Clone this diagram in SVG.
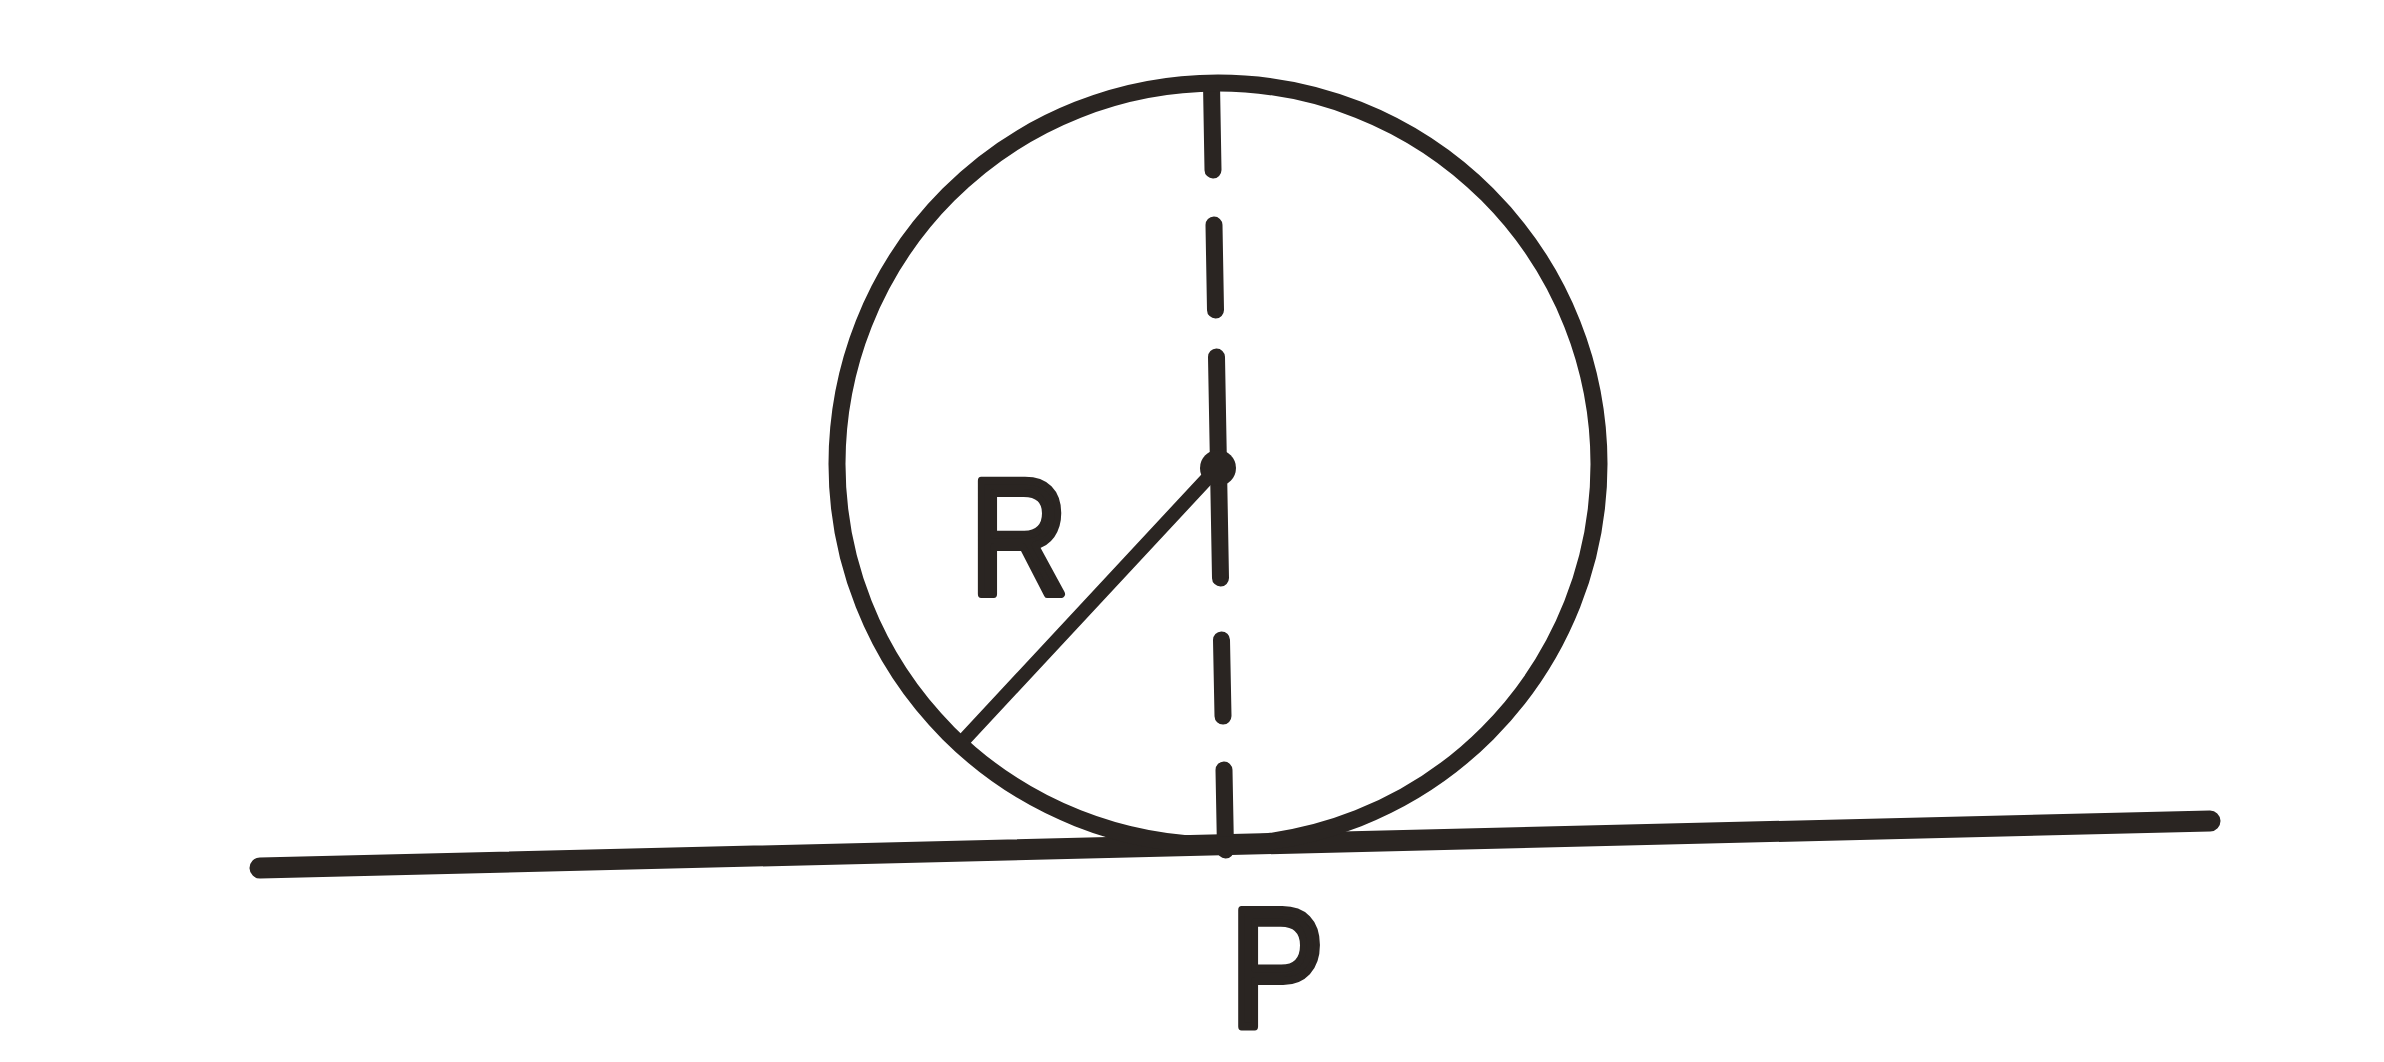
<svg xmlns="http://www.w3.org/2000/svg" width="2384" height="1062" viewBox="0 0 2384 1062">
<style>
.ink{stroke:#2a2522;fill:none;stroke-linecap:round}
.lbl{font-family:"Liberation Sans",Arial,sans-serif;fill:#2a2522;stroke:#2a2522;stroke-width:8;stroke-linejoin:round}
</style>
<rect width="2384" height="1062" fill="#ffffff"/>
<g id="connectors">
<line id="ground" class="ink" x1="260" y1="868" x2="2210" y2="821" stroke-width="21"/>
<path id="axis" class="ink" stroke-width="17" d="M1211.5 84 L1213 170 M1214 225 L1215.5 310 M1216.5 357 L1220.5 578 M1221.5 640 L1223 716 M1224 770 L1225.5 850"/>
<line id="radius" class="ink" x1="1217" y1="468" x2="962" y2="742" stroke-width="14"/>
</g>
<g id="wheel">
<circle class="ink" cx="1218" cy="464" r="381" stroke-width="17"/>
<circle cx="1218" cy="468" r="18" fill="#2a2522"/>
</g>
<g id="label-R"><text class="lbl" x="970" y="594" font-size="166" textLength="98" lengthAdjust="spacingAndGlyphs">R</text></g>
<g id="label-P"><text class="lbl" x="1230" y="1026" font-size="168" textLength="94" lengthAdjust="spacingAndGlyphs">P</text></g>
</svg>
